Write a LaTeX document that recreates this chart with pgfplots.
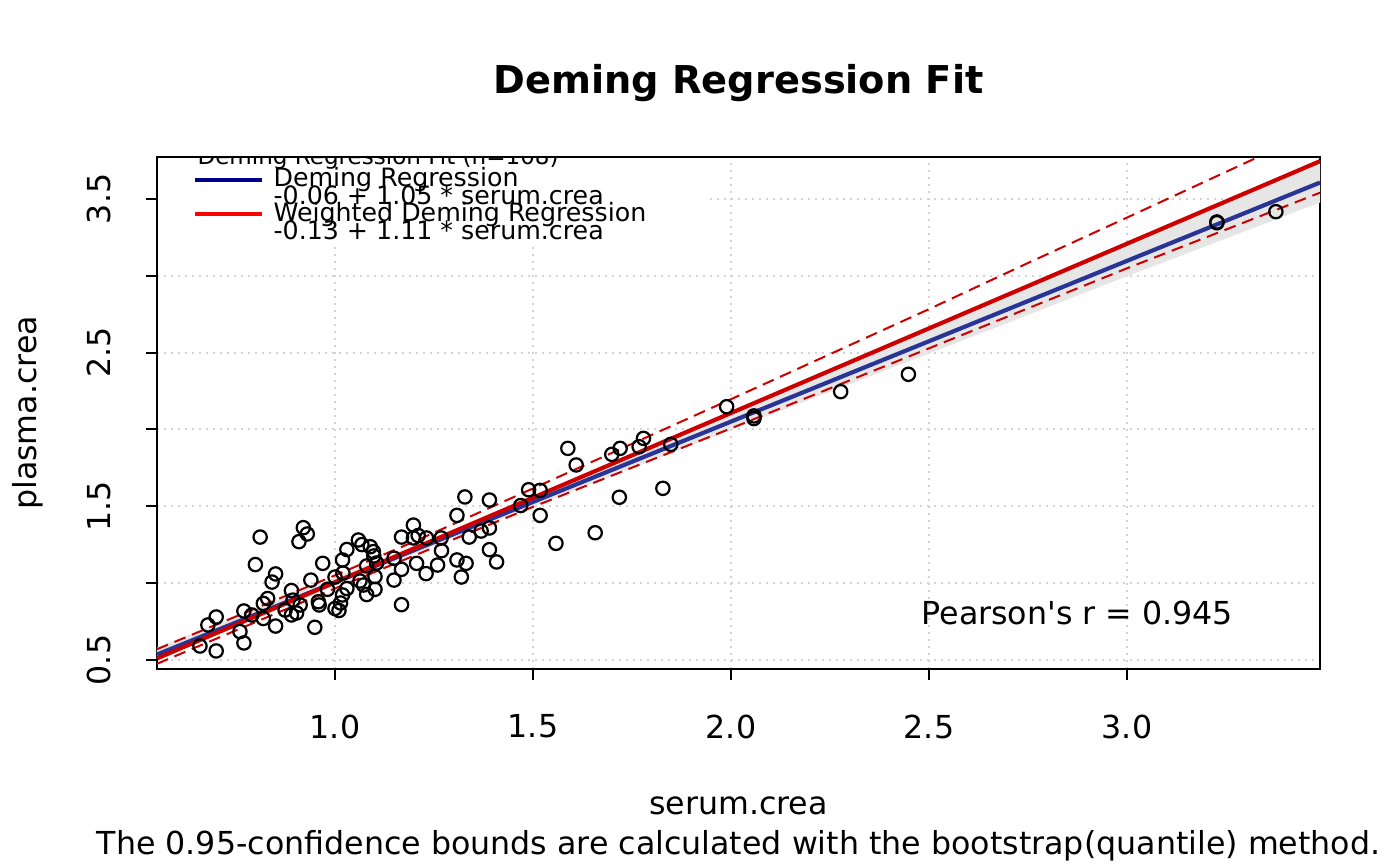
\documentclass[border=0pt]{standalone}
\usepackage{pgfplots}
\usepackage{pgfplotstable}
\pgfplotsset{compat=1.18}
\usepackage{fontspec}
\setmainfont{DejaVu Sans}
\definecolor{rgrid}{RGB}{211,211,211}
\definecolor{plotblue}{RGB}{40,52,150}
\definecolor{plotred}{RGB}{205,0,0}
\definecolor{bandgrey}{RGB}{230,230,230}
\definecolor{legblue}{RGB}{0,0,139}
\definecolor{legred}{RGB}{255,0,0}
\newlength{\pu}\setlength{\pu}{0.36pt}

\pgfplotstableread{
x y
0.659 0.591
0.700 0.559
0.679 0.728
0.700 0.780
0.770 0.611
0.760 0.685
0.770 0.819
0.790 0.793
0.799 1.121
0.811 1.300
0.819 0.770
0.819 0.868
0.830 0.900
0.841 1.007
0.850 1.060
0.850 0.721
0.874 0.825
0.890 0.952
0.894 0.890
0.890 0.793
0.903 0.806
0.912 0.858
0.909 1.270
0.920 1.361
0.930 1.320
0.939 1.020
0.949 0.713
0.958 0.879
0.960 0.858
0.969 1.129
0.981 0.960
1.000 1.040
1.000 0.835
1.010 0.822
1.014 0.871
1.019 0.923
1.020 1.066
1.019 1.151
1.030 1.219
1.030 0.965
1.059 1.281
1.068 1.251
1.080 1.112
1.089 1.237
1.097 1.205
1.098 1.177
1.080 0.926
1.101 0.960
1.101 1.043
1.063 1.014
1.072 0.988
1.105 1.131
1.149 1.020
1.149 1.162
1.168 1.300
1.168 1.090
1.168 0.860
1.198 1.378
1.198 1.294
1.210 1.310
1.206 1.129
1.230 1.062
1.231 1.294
1.259 1.118
1.268 1.294
1.269 1.211
1.308 1.441
1.308 1.151
1.319 1.040
1.331 1.129
1.339 1.300
1.328 1.561
1.369 1.339
1.390 1.359
1.390 1.218
1.408 1.138
1.390 1.541
1.469 1.505
1.489 1.608
1.518 1.604
1.518 1.441
1.558 1.259
1.588 1.877
1.609 1.769
1.657 1.328
1.699 1.838
1.720 1.877
1.718 1.559
1.768 1.888
1.779 1.942
1.828 1.617
1.848 1.903
1.989 2.148
2.058 2.088
2.058 2.071
2.277 2.246
2.448 2.359
3.227 3.350
3.227 3.345
3.376 3.417
}\pts

\begin{document}
\begin{tikzpicture}
\path[use as bounding box] (0,0) rectangle (1400\pu,-866\pu);
\begin{axis}[
  at={(157\pu,-669\pu)}, anchor=south west,
  scale only axis, width=1163\pu, height=512\pu,
  xmin=0.5505, xmax=3.4874, ymin=0.4414, ymax=3.7726,
  xtick={1,1.5,2,2.5,3}, xticklabels={1.0,1.5,2.0,2.5,3.0},
  ytick={0.5,1,1.5,2,2.5,3,3.5}, yticklabels={0.5,,1.5,,2.5,,3.5},
  tick align=outside, tick pos=left, major tick length=11\pu,
  tick style={black, line width=0.72pt},
  axis line style={line width=0.72pt},
  grid=major,
  grid style={color=rgrid, line width=0.72pt, dash pattern=on 0.72pt off 1.8pt},
  tick label style={font=\fontsize{11.4}{13}\selectfont},
  yticklabel style={rotate=90},
  xticklabel shift=9pt, yticklabel shift=9pt,
  /pgf/number format/assume math mode=true,
  title={Deming Regression Fit},
  title style={at={(axis description cs:0.5,1.0918)}, anchor=base, font=\bfseries\fontsize{13.8}{16}\selectfont},
  xlabel={serum.crea},
  xlabel style={at={(axis description cs:0.5,-0.2832)}, anchor=base, font=\fontsize{11.4}{13}\selectfont},
  ylabel={plasma.crea},
  ylabel style={at={(axis description cs:-0.1109,0.5)}, anchor=center, font=\fontsize{11.4}{13}\selectfont},
]
% confidence band of Deming regression
\addplot[draw=none, fill=bandgrey] coordinates {
 (0.5505,0.5806) (1.0,1.0356) (1.3,1.3493) (1.6,1.673) (2.0,2.1112) (2.5,2.664) (3.0,3.2168) (3.4874,3.7515)
 (3.4874,3.4765) (3.0,2.9968) (2.5,2.494) (2.0,1.9962) (1.6,1.598) (1.3,1.2943) (1.0,0.9806) (0.5505,0.5056)
} -- cycle;
% weighted Deming CI bounds
\addplot[plotred, line width=0.72pt, dash pattern=on 4.3pt off 2.5pt] coordinates {
 (0.5505,0.5704) (1.0,1.0505) (1.2,1.2708) (1.5,1.6163) (2.0,2.197) (2.5,2.7828) (2.75,3.0831) (3.0,3.3785) (3.34,3.783) (3.4874,3.9554)
};
\addplot[plotred, line width=0.72pt, dash pattern=on 4.3pt off 2.5pt] coordinates {
 (0.5505,0.4754) (1.0,0.9655) (1.3,1.2859) (1.5,1.4963) (2.0,2.007) (2.5,2.5278) (3.0,3.0485) (3.4874,3.5404)
};
% fitted lines
\addplot[plotblue, line width=1.5pt] coordinates {(0.5505,0.5356) (3.4874,3.6065)};
\addplot[plotred, line width=1.5pt] coordinates {(0.5505,0.5104) (3.4874,3.7454)};
% data
\addplot[only marks, mark=o, mark size=2.4pt, mark options={black, line width=0.8pt}] table[x=x,y=y] {\pts};
\end{axis}
\begin{scope}[x=\pu, y=-\pu]
  \begin{scope}
    \clip (157,157) rectangle (1320,669);
    \fill[white] (158,158) rectangle (705,245);
    \node[anchor=base west, inner sep=0pt, font=\fontsize{8.3}{10}\selectfont] at (197,164) {Deming Regression Fit (n=108)};
  \end{scope}
  \draw[legblue, line width=1.44pt] (195,180) -- (262,180);
  \draw[legred, line width=1.44pt] (195,214) -- (262,214);
  \begin{scope}[every node/.style={anchor=base west, inner sep=0pt, font=\fontsize{9.1}{10}\selectfont}]
    \node at (273,186.7) {Deming Regression};
    \node at (273,204.3) {-0.06 + 1.05 * serum.crea};
    \node at (273,221.7) {Weighted Deming Regression};
    \node at (273,239.3) {-0.13 + 1.11 * serum.crea};
  \end{scope}
  \node[anchor=base west, inner sep=0pt, font=\fontsize{11.4}{13}\selectfont] at (921,624) {Pearson\textquotesingle s r = 0.945};
  \node[anchor=base, inner sep=0pt, font=\fontsize{11.4}{13}\selectfont] at (738.5,854.5) {The 0.95-confidence bounds are calculated with the bootstrap(quantile) method.};
\end{scope}
\end{tikzpicture}
\end{document}
